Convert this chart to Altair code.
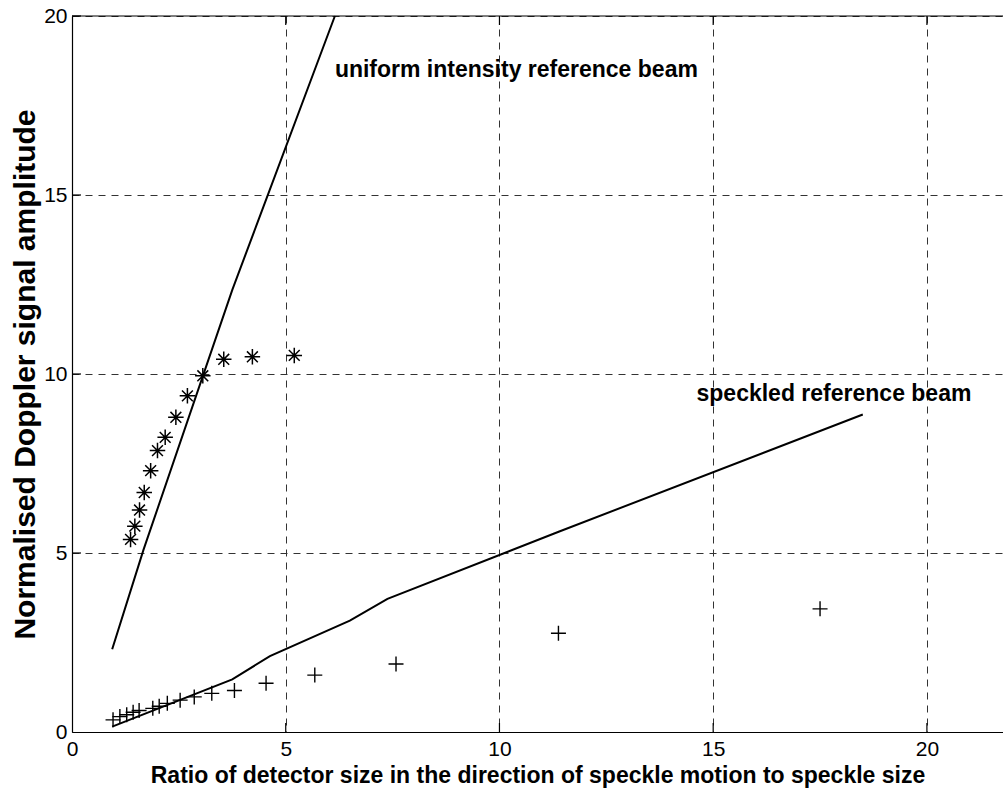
import altair as alt
import pandas as pd

# Measured points, uniform intensity reference beam (asterisks)
star_x = [1.37, 1.47, 1.58, 1.69, 1.84, 2.00, 2.18, 2.43, 2.70, 3.06, 3.55, 4.22, 5.20]
star_y = [5.38, 5.75, 6.20, 6.69, 7.30, 7.86, 8.23, 8.79, 9.39, 9.95, 10.41, 10.48, 10.52]

# Measured points, speckled reference beam (plus signs)
plus_x = [0.96, 1.12, 1.28, 1.43, 1.57, 1.89, 2.04, 2.23, 2.53, 2.86, 3.27, 3.80, 4.54, 5.68, 7.58, 11.38, 17.50]
plus_y = [0.34, 0.43, 0.48, 0.55, 0.60, 0.66, 0.72, 0.80, 0.89, 0.98, 1.08, 1.16, 1.36, 1.59, 1.90, 2.76, 3.44]

# Theoretical curves
uni_x = [0.94, 1.67, 3.75, 6.15]
uni_y = [2.31, 5.08, 12.35, 20.0]
spk_x = [0.94, 3.75, 4.63, 6.50, 7.38, 11.40, 18.50]
spk_y = [0.15, 1.47, 2.12, 3.11, 3.72, 5.60, 8.87]

# Annotations
label_text = ["uniform intensity reference beam", "speckled reference beam"]
label_x = [6.15, 14.61]
label_y = [18.5, 9.45]

tick_vals = [0, 5, 10, 15, 20]

X_MAX = 21.78
Y_MAX = 20
W, H = 931, 716
FONT = "Liberation Sans"

xs = alt.Scale(domain=[0, X_MAX], nice=False, zero=False)
ys = alt.Scale(domain=[0, Y_MAX], nice=False, zero=False)

x_axis = alt.Axis(values=tick_vals, title="Ratio of detector size in the direction of speckle motion to speckle size",
                  ticks=False, labelPadding=6, titlePadding=5, labelFontSize=21, titleFontSize=23,
                  titleFontWeight="bold", grid=True, gridDash=[7, 6], gridColor="#333", gridWidth=1,
                  domainColor="black", domainWidth=1.2, labelColor="black", titleColor="black",
                  labelFont=FONT, titleFont=FONT, labelFlush=False)
y_axis = alt.Axis(values=tick_vals, title="Normalised Doppler signal amplitude",
                  ticks=False, labelPadding=5, titlePadding=3, labelFontSize=21, titleFontSize=30,
                  titleFontWeight="bold", grid=True, gridDash=[7, 6], gridColor="#333", gridWidth=1,
                  domainColor="black", domainWidth=1.2, labelColor="black", titleColor="black",
                  labelFont=FONT, titleFont=FONT, labelFlush=False)

stars = pd.DataFrame({"x": star_x, "y": star_y})
pluses = pd.DataFrame({"x": plus_x, "y": plus_y})
uni = pd.DataFrame({"x": uni_x, "y": uni_y, "o": range(len(uni_x))})
spk = pd.DataFrame({"x": spk_x, "y": spk_y, "o": range(len(spk_x))})
labels = pd.DataFrame({"x": label_x, "y": label_y, "t": label_text})
ticks = pd.DataFrame({"v": tick_vals})

PLUS = "M-1,0L1,0M0,-1L0,1"
STAR = "M-1,0L1,0M0,-1L0,1M-0.7,-0.7L0.7,0.7M-0.7,0.7L0.7,-0.7"

base_axes = alt.Chart(stars).mark_point(opacity=0).encode(
    x=alt.X("x:Q", scale=xs, axis=x_axis),
    y=alt.Y("y:Q", scale=ys, axis=y_axis),
)

uni_line = alt.Chart(uni).mark_line(color="black", strokeWidth=2).encode(
    x=alt.X("x:Q", scale=xs), y=alt.Y("y:Q", scale=ys), order="o:O")
spk_line = alt.Chart(spk).mark_line(color="black", strokeWidth=2).encode(
    x=alt.X("x:Q", scale=xs), y=alt.Y("y:Q", scale=ys), order="o:O")

star_pts = alt.Chart(stars).mark_point(shape=STAR, size=240, filled=False, color="black", strokeWidth=1.5,
                                       opacity=1).encode(
    x=alt.X("x:Q", scale=xs), y=alt.Y("y:Q", scale=ys))
plus_pts = alt.Chart(pluses).mark_point(shape=PLUS, size=225, filled=False, color="black", strokeWidth=1.4,
                                        opacity=1).encode(
    x=alt.X("x:Q", scale=xs), y=alt.Y("y:Q", scale=ys))

text = alt.Chart(labels).mark_text(align="left", baseline="middle", font=FONT, fontSize=23,
                                   fontWeight="bold", color="black").encode(
    x=alt.X("x:Q", scale=xs), y=alt.Y("y:Q", scale=ys), text="t:N")

# Box edge along the top
top_edge = alt.Chart(pd.DataFrame({"y": [Y_MAX]})).mark_rule(color="black", strokeWidth=1.2).encode(
    y=alt.Y("y:Q", scale=ys), x=alt.value(0), x2=alt.value(W))

# Inward-pointing tick marks on bottom, top and left edges
xt = ticks[ticks.v > 0]
bottom_ticks = alt.Chart(xt).mark_rule(color="black", strokeWidth=1.2).encode(
    x=alt.X("v:Q", scale=xs), y=alt.value(H), y2=alt.value(H - 9))
top_ticks = alt.Chart(xt).mark_rule(color="black", strokeWidth=1.2).encode(
    x=alt.X("v:Q", scale=xs), y=alt.value(0), y2=alt.value(9))
left_ticks = alt.Chart(ticks[ticks.v > 0]).mark_rule(color="black", strokeWidth=1.2).encode(
    y=alt.Y("v:Q", scale=ys), x=alt.value(0), x2=alt.value(9))

chart = alt.layer(base_axes, uni_line, spk_line, star_pts, plus_pts, text, top_edge,
                  bottom_ticks, top_ticks, left_ticks).properties(
    width=W, height=H,
    autosize=alt.AutoSizeParams(type="none"),
    padding={"left": 72, "top": 16, "right": 0, "bottom": 60},
    background="white",
).configure_view(strokeWidth=0)

chart.save("out.html", embed_options={"renderer": "svg", "actions": False})
